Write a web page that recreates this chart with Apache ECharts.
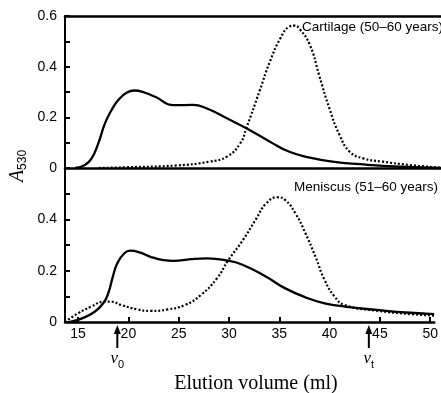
<!DOCTYPE html>
<html><head><meta charset="utf-8">
<script src="https://cdn.jsdelivr.net/npm/echarts@6/dist/echarts.min.js"></script>
<style>html,body{margin:0;padding:0;background:#fff}#c{width:441px;height:393px}</style>
</head><body><div id="c"></div>
<script>
// Tick labels
const xTicks = [15, 20, 25, 30, 35, 40, 45, 50];
const yTicks = [0, 0.1, 0.2, 0.3, 0.4, 0.5, 0.6];

// Cartilage (50–60 years)
const cartSolidX = [14.7, 15.65, 16.3, 16.95, 17.6, 18.25, 18.9, 19.7, 20.5, 21.5, 22.5, 24.3, 26.2, 27.5, 29.5, 31.4, 33.7, 35.6, 37.6, 39.8, 42.5, 46.4, 50.4];
const cartSolidY = [0, 0.012, 0.038, 0.097, 0.176, 0.229, 0.268, 0.297, 0.306, 0.297, 0.281, 0.248, 0.249, 0.236, 0.196, 0.157, 0.104, 0.064, 0.041, 0.025, 0.015, 0.005, 0];
const cartDotX = [17.0, 19.7, 24.6, 27.8, 29.5, 30.8, 31.4, 32.7, 33.7, 34.7, 35.6, 36.1, 36.6, 37.6, 38.5, 39.5, 40.5, 41.5, 42.8, 44.7, 47.3, 50.4];
const cartDotY = [0, 0.003, 0.01, 0.025, 0.045, 0.097, 0.157, 0.305, 0.42, 0.51, 0.558, 0.562, 0.549, 0.486, 0.367, 0.236, 0.13, 0.064, 0.038, 0.025, 0.012, 0.001];

// Meniscus (51–60 years)
const menSolidX = [14.2, 15.4, 16.65, 17.5, 18.0, 18.45, 18.9, 19.6, 20.2, 21.2, 22.2, 23.5, 24.5, 26.2, 27.8, 29.9, 31.4, 33.7, 35.6, 37.6, 39.5, 41.5, 44.7, 48.0, 50.4];
const menSolidY = [0, 0.014, 0.04, 0.073, 0.112, 0.176, 0.229, 0.268, 0.278, 0.27, 0.254, 0.241, 0.238, 0.245, 0.248, 0.239, 0.222, 0.176, 0.131, 0.096, 0.073, 0.06, 0.047, 0.036, 0.031];
const menDotX = [13.7, 15.0, 16.3, 17.6, 18.3, 19.3, 20.9, 22.2, 23.9, 25.6, 27.2, 28.8, 29.9, 31.4, 32.7, 33.7, 34.8, 35.6, 36.6, 37.6, 38.6, 39.5, 40.5, 41.5, 44.7, 48.0, 50.4];
const menDotY = [0, 0.034, 0.06, 0.079, 0.079, 0.066, 0.049, 0.043, 0.049, 0.066, 0.105, 0.17, 0.239, 0.32, 0.402, 0.462, 0.486, 0.475, 0.423, 0.346, 0.254, 0.164, 0.099, 0.066, 0.044, 0.031, 0.025];

// Markers
const v0 = 18.9, vt = 43.9;
const xMin = 13.7, xMax = 50.4;

const zip = (a, b) => a.map((v, i) => [v, b[i]]);
const sansFont = '"Liberation Sans", Arial, sans-serif';

const chart = echarts.init(document.getElementById('c'), null, {renderer: 'canvas'});
const axisLine = {show: true, lineStyle: {color: '#000', width: 2}};
function yAx(grid, hideMax) {
  return {
    type: 'value', gridIndex: grid, min: 0, max: 0.6, interval: 0.1,
    axisLine: axisLine,
    axisTick: {show: true, inside: true, length: 5, lineStyle: {color: '#000', width: 2}},
    splitLine: {show: false},
    axisLabel: {
      color: '#000', fontSize: 14, fontFamily: sansFont, margin: 8,
      formatter: v => {
        const k = Math.round(v * 10);
        if (k % 2 !== 0) return '';
        if (hideMax && k === 6) return '';
        return k === 0 ? '0' : v.toFixed(1);
      }
    }
  };
}
const line = (x, y, xi, yi, dotted) => ({
  type: 'line', xAxisIndex: xi, yAxisIndex: yi, data: zip(x, y),
  smooth: 0.5, symbol: 'none', silent: true,
  lineStyle: {color: '#000', width: dotted ? 2.2 : 2.3, type: dotted ? [2, 2] : 'solid'}
});

chart.setOption({
  animation: false,
  backgroundColor: '#fff',
  grid: [
    {left: 65, right: 0, top: 16, height: 152},
    {left: 65, right: 0, top: 168, height: 154}
  ],
  xAxis: [
    {type: 'value', gridIndex: 0, min: xMin, max: xMax, axisLine: {show: true, lineStyle: {color: '#000', width: 2.5}},
     axisTick: {show: false}, axisLabel: {show: false}, splitLine: {show: false}},
    {type: 'value', gridIndex: 0, position: 'top', min: xMin, max: xMax,
     axisLine: {show: true, lineStyle: {color: '#000', width: 2.5}},
     axisTick: {show: false}, axisLabel: {show: false}, splitLine: {show: false}},
    {type: 'value', gridIndex: 1, min: xMin, max: xMax, axisLine: {show: true, lineStyle: {color: '#000', width: 2.5}},
     axisTick: {show: true, inside: true, length: 5, customValues: xTicks, lineStyle: {color: '#000', width: 2}},
     axisLabel: {show: true, customValues: xTicks, color: '#000', fontSize: 14, fontFamily: sansFont, margin: 5},
     splitLine: {show: false}}
  ],
  yAxis: [yAx(0, false), yAx(1, true)],
  series: [
    line(cartSolidX, cartSolidY, 0, 0, false),
    line(cartDotX, cartDotY, 0, 0, true),
    line(menSolidX, menSolidY, 2, 1, false),
    line(menDotX, menDotY, 2, 1, true)
  ]
});

function arrowGraphic(val, sub) {
  const p = chart.convertToPixel({xAxisIndex: 2}, val);
  return [
    {type: 'line', shape: {x1: p, y1: 331, x2: p, y2: 348}, style: {stroke: '#000', lineWidth: 2}},
    {type: 'polygon', shape: {points: [[p, 325], [p - 3.5, 334], [p + 3.5, 334]]}, style: {fill: '#000'}},
    {type: 'text', x: p, y: 359, style: {
      text: '{v|v}{s|' + sub + '}', align: 'center', verticalAlign: 'middle',
      rich: {
        v: {fontFamily: '"Liberation Serif", serif', fontStyle: 'italic', fontSize: 17, fill: '#000'},
        s: {fontFamily: sansFont, fontSize: 11, fill: '#000', padding: [11, 0, 0, 0]}
      }
    }}
  ];
}

chart.setOption({
  graphic: [
    {type: 'text', x: 302, y: 27, style: {text: 'Cartilage (50–60 years)', fontFamily: sansFont, fontSize: 13.5, fill: '#000', verticalAlign: 'middle'}},
    {type: 'text', x: 294, y: 187, style: {text: 'Meniscus (51–60 years)', fontFamily: sansFont, fontSize: 13.5, fill: '#000', verticalAlign: 'middle'}},
    {type: 'text', x: 256, y: 384, style: {text: 'Elution volume (ml)', fontFamily: '"Liberation Serif", "Times New Roman", serif', fontSize: 20, fill: '#000', align: 'center', verticalAlign: 'middle'}},
    {type: 'text', x: 18, y: 166, rotation: Math.PI / 2, style: {
      text: '{a|A}{s|530}', align: 'center', verticalAlign: 'middle',
      rich: {
        a: {fontFamily: '"Liberation Serif", serif', fontStyle: 'italic', fontSize: 20, fill: '#000'},
        s: {fontFamily: sansFont, fontSize: 12, fill: '#000', padding: [10, 0, 0, 0]}
      }
    }}
  ].concat(arrowGraphic(v0, '0'), arrowGraphic(vt, 't'))
});
</script>
</body></html>
